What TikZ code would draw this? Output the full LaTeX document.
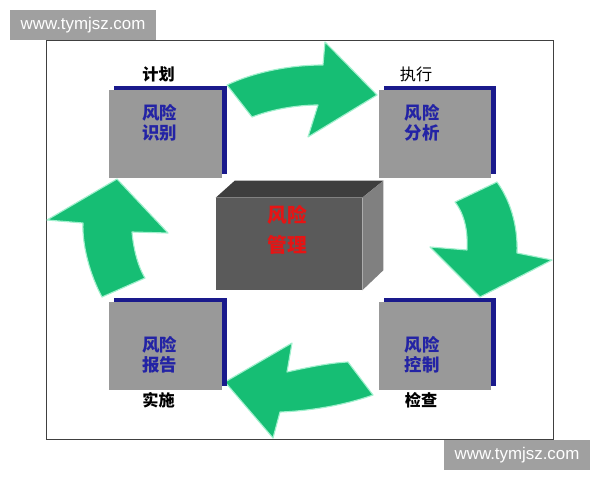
\documentclass[tikz,border=0pt]{standalone}
\usepackage{fontspec}
\newfontfamily\cjk{Noto Sans CJK SC}
\newfontfamily\wmfont{Liberation Sans}
\usetikzlibrary{positioning, shadows}

\definecolor{boxgray}{RGB}{153,153,153}
\definecolor{shadowblue}{RGB}{26,26,140}
\definecolor{textblue}{RGB}{35,35,165}
\definecolor{arrowgreen}{RGB}{22,190,116}
\definecolor{arrowglow}{RGB}{160,240,205}
\definecolor{framegray}{RGB}{64,64,64}
\definecolor{wmgray}{RGB}{160,160,160}
\definecolor{frontface}{RGB}{90,90,90}
\definecolor{topface}{RGB}{62,62,62}
\definecolor{sideface}{RGB}{128,128,128}
\definecolor{mgmtred}{RGB}{230,20,20}

\begin{document}
\begin{tikzpicture}[x=0.025cm, y=-0.025cm,
  riskbox/.style={fill=boxgray, minimum width=2.8cm, minimum height=2.175cm,
    inner sep=0pt, drop shadow={shadow xshift=0.125cm, shadow yshift=0.1cm,
    fill=shadowblue, opacity=1}},
  boxtext/.style={text=textblue, align=center, inner sep=0pt,
    font=\cjk\bfseries\fontsize{12.4}{14}\selectfont},
  steplabel/.style={inner sep=0pt, font=\cjk\bfseries\fontsize{11.5}{13}\selectfont},
  bigarrow/.style={fill=arrowgreen, draw=arrowglow, line width=0.8pt, line join=round},
  watermark/.style={fill=wmgray, text=white, minimum width=3.65cm, minimum height=0.75cm,
    inner sep=0pt, font=\wmfont\fontsize{12}{14}\selectfont}]
  \useasboundingbox (0,0) rectangle (600,480);
  \fill[white] (0,0) rectangle (600,480);

  % Frame
  \draw[framegray, line width=0.7pt] (46,40) rectangle (553,439);

  % Green arrows of the cycle
  \draw[bigarrow] (227,85) .. controls (250,74) and (285,65) .. (323,65)
    -- (325,42) -- (377,95) -- (308,137) -- (318,105)
    .. controls (295,105) and (270,110) .. (252,117) -- cycle;
  \draw[bigarrow] (455,202) -- (497,182) .. controls (510,200) and (518,225) .. (517,253)
    -- (552,260) -- (480,297) -- (430,247) -- (467,250)
    .. controls (468,232) and (465,215) .. cycle;
  \draw[bigarrow] (225,382) -- (292,343) -- (287,372)
    .. controls (305,368) and (328,363) .. (348,362) -- (373,395)
    .. controls (345,405) and (310,411) .. (280,412) -- (273,438) -- cycle;
  \draw[bigarrow] (117,179) -- (168,233) -- (132,232)
    .. controls (133,245) and (137,265) .. (145,278) -- (102,297)
    .. controls (90,275) and (82,245) .. (83,223) -- (47,220) -- cycle;

  % Four step boxes
  \node[riskbox] (ident) at (165.5,134) {};
  \node[riskbox] (anal) at (435,134) {};
  \node[riskbox] (report) at (165.5,346) {};
  \node[riskbox] (ctrl) at (435,346) {};

  \node[boxtext] (identtxt) at ([shift={(-6,-11)}]ident.center) {风险\\识别};
  \node[boxtext] (analtxt) at ([shift={(-13,-11)}]anal.center) {风险\\分析};
  \node[boxtext] (reporttxt) at ([shift={(-6,9)}]report.center) {风险\\报告};
  \node[boxtext] (ctrltxt) at ([shift={(-13,9)}]ctrl.center) {风险\\控制};

  % Step labels
  \node[steplabel] (plan) at ([shift={(-7,-16)}]ident.north) {计划};
  \node[steplabel, font=\cjk\fontsize{11.5}{13}\selectfont] (exec) at ([shift={(-19,-16)}]anal.north) {执行};
  \node[steplabel] (impl) at ([shift={(-7,10)}]report.south) {实施};
  \node[steplabel] (check) at ([shift={(-14,10)}]ctrl.south) {检查};

  % Centre block
  \node[fill=frontface, minimum width=3.65cm, minimum height=2.3cm, inner sep=0pt] (mgmt) at (289,244) {};
  \fill[topface] (mgmt.north west) -- ++(19,-17) -- ([shift={(21,-17)}]mgmt.north east)
    -- (mgmt.north east) -- cycle;
  \fill[sideface] (mgmt.north east) -- ++(21,-17) -- ([shift={(21,-20)}]mgmt.south east)
    -- (mgmt.south east) -- cycle;
  \node[text=mgmtred, align=center, inner sep=0pt,
    font=\cjk\bfseries\fontsize{14}{21}\selectfont] (mgmttxt) at ([shift={(-2,-14)}]mgmt.center) {风险\\管理};

  % Watermarks
  \node[watermark] (wmtop) at (83,25) {www.tymjsz.com};
  \node[watermark] (wmbottom) at (517,455) {www.tymjsz.com};
\end{tikzpicture}
\end{document}
